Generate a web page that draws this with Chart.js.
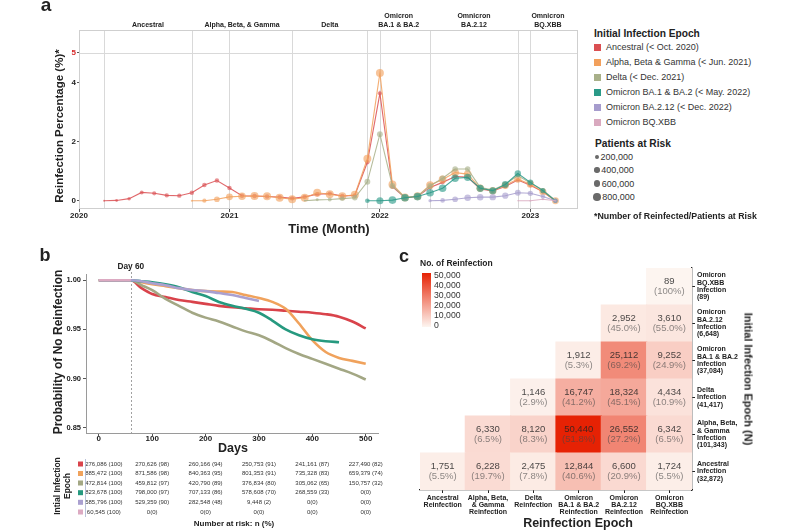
<!DOCTYPE html>
<html><head><meta charset="utf-8"><title>Reinfection</title>
<script src="https://cdn.jsdelivr.net/npm/chart.js@4.4.1/dist/chart.umd.min.js"></script>
<style>
html,body{margin:0;padding:0;background:#fff}
body{width:800px;height:530px;position:relative;overflow:hidden;font-family:"Liberation Sans",Arial,Helvetica,sans-serif;color:#222}
canvas{position:absolute}
.t{position:absolute;white-space:nowrap;line-height:1}
.sq{position:absolute}
</style></head><body>
<canvas id="ca" width="590" height="235" style="left:0;top:0;width:590px;height:235px"></canvas>
<canvas id="cb" width="395" height="290" style="left:0;top:240px;width:395px;height:290px"></canvas>
<canvas id="cc" width="405" height="290" style="left:395px;top:240px;width:405px;height:290px"></canvas>
<div id="overlay"></div>
<script>
// ================= DATA =================
// Panel a: monthly reinfection percentage by initial infection epoch
const months = ['2020-03','2020-04','2020-05','2020-06','2020-07','2020-08','2020-09','2020-10','2020-11','2020-12',
  '2021-01','2021-02','2021-03','2021-04','2021-05','2021-06','2021-07','2021-08','2021-09','2021-10','2021-11','2021-12',
  '2022-01','2022-02','2022-03','2022-04','2022-05','2022-06','2022-07','2022-08','2022-09','2022-10','2022-11','2022-12',
  '2023-01','2023-02','2023-03'];
const yearTicks = [2020, 2021, 2022, 2023];
const yTicksA = [0, 2, 4, 5];
const legendLabels = ['Ancestral (< Oct. 2020)','Alpha, Beta & Gamma (< Jun. 2021)','Delta (< Dec. 2021)',
  'Omicron BA.1 & BA.2 (< May. 2022)','Omicron BA.2.12 (< Dec. 2022)','Omicron BQ.XBB'];
const epochColors = ['#da4f52','#f2a05c','#a8b089','#2a9a88','#a69ccd','#d9a9bf'];
const kmColors = ['#d9434b','#f0a25c','#a3a784','#26997f','#aaa0d0','#dcaac2'];
const epochBounds = ['2020-03','2020-10','2021-06','2021-12','2022-05','2022-12'];
const epochTitles = [['Ancestral'],['Alpha, Beta, & Gamma'],['Delta'],['Omicron','BA.1 & BA.2'],['Omnicron','BA.2.12'],['Omnicron','BQ.XBB']];
const seriesStart = ['2020-03','2020-10','2021-07','2021-12','2022-05','2022-12'];

const ancestralPct = [0,0.01,0.07,0.28,0.25,0.18,0.17,0.27,0.53,0.68,0.43,0.17,0.16,0.14,0.12,0.08,0.13,0.22,0.24,0.16,0.18,1.30,3.63,0.47,0.10,0.14,0.45,0.62,0.82,0.80,0.40,0.33,0.48,0.70,0.52,0.30,0];
const alphaPct = [0,0,0.05,0.13,0.15,0.16,0.15,0.10,0.05,0.10,0.27,0.22,0.15,0.20,1.42,4.32,0.55,0.11,0.15,0.53,0.72,0.95,0.90,0.42,0.34,0.52,0.73,0.56,0.30,0];
const deltaPct = [0,0.03,0.04,0.07,0.10,0.64,2.25,0.50,0.11,0.15,0.50,0.76,1.07,1.07,0.45,0.36,0.56,0.85,0.60,0.36,0];
const ba1Pct = [0,0,0.02,0.10,0.14,0.27,0.42,0.76,0.79,0.42,0.34,0.55,0.92,0.62,0.34,0];
const ba212Pct = [0,0.01,0.05,0.10,0.12,0.12,0.17,0.27,0.25,0.14,0];
const bqxbbPct = [0,0,0.05,0];

// patients at risk (thousands), same order as values above
const ancestralRisk = [60,120,170,210,240,255,265,276,276,276,275,274,273,272,271,270,269,268,266,264,262,260,258,256,254,252,250,248,246,244,242,240,238,236,234,232,230];
const alphaRisk = [60,250,450,650,800,885,885,884,883,882,880,878,876,874,872,870,865,860,850,840,830,820,805,790,770,750,730,710,690,660];
const deltaRisk = [40,120,220,330,420,472,470,468,465,460,455,445,430,415,400,380,350,320,280,220,150];
const ba1Risk = [300,700,823,820,815,805,795,780,760,730,690,640,570,480,370,268];
const ba212Risk = [150,300,450,585,580,570,540,480,400,300,280];
const bqxbbRisk = [20,60,60,60];
const riskLegend = [200000, 400000, 600000, 800000];

// Panel b: probability of no reinfection
const kmDays = [0,60,80,100,125,150,175,200,225,250,275,300,325,350,375,400,425,450,475,500];
const kmAncestral = [1,1,0.992,0.986,0.983,0.980,0.978,0.976,0.974,0.9725,0.9715,0.9705,0.970,0.969,0.968,0.967,0.9655,0.963,0.958,0.951];
const kmAlpha = [1,1,0.998,0.996,0.994,0.992,0.990,0.989,0.9885,0.988,0.985,0.982,0.978,0.971,0.956,0.939,0.927,0.921,0.918,0.915];
const kmDelta = [1,1,0.995,0.990,0.981,0.974,0.967,0.962,0.958,0.953,0.948,0.944,0.938,0.931,0.925,0.920,0.915,0.910,0.905,0.899];
const kmBA1 = [1,1,0.999,0.998,0.996,0.993,0.988,0.984,0.978,0.974,0.971,0.967,0.959,0.950,0.944,0.940,0.938,0.937,null,null];
const kmBA212 = [1,1,0.999,0.997,0.995,0.992,0.990,0.989,0.987,0.985,0.982,0.979,null,null,null,null,null,null,null,null];
const kmBQXBB = [1,1,null,null,null,null,null,null,null,null,null,null,null,null,null,null,null,null,null,null];
const riskDays = [0,100,200,300,400,500];
const riskN = [
  [276086,270626,260166,250753,241161,227490],
  [885472,871586,840363,801353,735328,659379],
  [472814,459812,420790,376834,305062,150757],
  [823678,798000,707133,578608,268559,0],
  [585796,529359,282548,9448,0,0],
  [60545,0,0,0,0,0]];
const riskPct = [
  [100,98,94,91,87,82],
  [100,98,95,91,83,74],
  [100,97,89,80,65,32],
  [100,97,86,70,33,0],
  [100,90,48,2,0,0],
  [100,0,0,0,0,0]];

// Panel c: reinfection counts (rows: initial infection, bottom to top; cols: reinfection epoch)
const reinfLabels = [['Ancestral','Reinfection'],['Alpha, Beta,','& Gamma','Reinfection'],['Delta','Reinfection'],
  ['Omicron','BA.1 & BA.2','Reinfection'],['Omicron','BA.2.12','Reinfection'],['Omicron','BQ.XBB','Reinfection']];
const infLabels = [['Ancestral','Infection','(32,872)'],['Alpha, Beta,','& Gamma','Infection','(101,343)'],
  ['Delta','Infection','(41,417)'],['Omicron','BA.1 & BA.2','Infection','(37,084)'],
  ['Omicron','BA.2.12','Infection','(6,648)'],['Omicron','BQ.XBB','Infection','(89)']];
const counts = [
  [1751,6228,2475,12844,6600,1724],
  [null,6330,8120,50440,26552,6342],
  [null,null,1146,16747,18324,4434],
  [null,null,null,1912,25112,9252],
  [null,null,null,null,2952,3610],
  [null,null,null,null,null,89]];
const pcts = [
  [5.5,19.7,7.8,40.6,20.9,5.5],
  [null,6.5,8.3,51.8,27.2,6.5],
  [null,null,2.9,41.2,45.1,10.9],
  [null,null,null,5.3,69.2,24.9],
  [null,null,null,null,45.0,55.0],
  [null,null,null,null,null,100]];
const colorbarTicks = [50000,40000,30000,20000,10000,0];

// ================= HELPERS =================
const FONT = '"Liberation Sans", Arial, Helvetica, sans-serif';
Chart.defaults.font.family = FONT;
Chart.defaults.color = '#222';
function monthNum(s){const p=s.split('-');return (+p[0]-2020)*12+(+p[1]-1);}
function rgba(hex,a){const n=parseInt(hex.slice(1),16);return 'rgba('+(n>>16&255)+','+(n>>8&255)+','+(n&255)+','+a+')';}
function riskRadius(k){return 3.8*Math.sqrt(k/800);}
function heatColor(v){const t=Math.max(0,Math.min(v/50000,1));const c0=[253,245,240],c1=[230,34,4];
  return 'rgb('+c0.map((c,i)=>Math.round(c+(c1[i]-c)*t)).join(',')+')';}
function fmtPct(p){return p===100?'100%':p.toFixed(1)+'%';}
const ov=document.getElementById('overlay');
function T(str,x,y,o={}){const d=document.createElement('div');d.className='t';d.textContent=str;
  d.style.fontSize=(o.size||9)+'px';d.style.fontWeight=o.bold?'bold':'normal';d.style.color=o.color||'#222';
  d.style.left=x+'px';d.style.top=y+'px';
  const tx=o.align==='left'?'0':'-50%';
  d.style.transform='translate('+tx+',-50%)'+(o.rot?' rotate('+o.rot+'deg)':'');
  ov.appendChild(d);return d;}
function box(x,y,w,h,bg,round){const d=document.createElement('div');d.className='sq';
  d.style.left=x+'px';d.style.top=y+'px';d.style.width=w+'px';d.style.height=h+'px';d.style.background=bg;
  if(round)d.style.borderRadius='50%';ov.appendChild(d);return d;}

// ================= PANEL A =================
const pctSeries=[ancestralPct,alphaPct,deltaPct,ba1Pct,ba212Pct,bqxbbPct];
const riskSeries=[ancestralRisk,alphaRisk,deltaRisk,ba1Risk,ba212Risk,bqxbbRisk];
const dsA = pctSeries.map((vals,s)=>{
  const i0=months.indexOf(seriesStart[s]);
  return {
    label: legendLabels[s],
    data: vals.map((v,i)=>({x:monthNum(months[i0+i]),y:v,r:riskSeries[s][i]})),
    borderColor: rgba(epochColors[s],0.85), borderWidth:1.1,
    backgroundColor: rgba(epochColors[s],0.62),
    pointBackgroundColor: rgba(epochColors[s],0.62), pointBorderWidth:0,
    pointRadius: c=>c.raw?riskRadius(c.raw.r):3,
    pointHoverRadius: c=>c.raw?riskRadius(c.raw.r):3,
    tension:0, order:-s
  };
});
const gridA = {
  id:'gridA',
  beforeDatasetsDraw(chart){
    const {ctx,chartArea:a,scales:{x,y}}=chart;
    ctx.save();ctx.strokeStyle='#d9d9d9';ctx.lineWidth=1;
    const vx=epochBounds.map(monthNum).concat(yearTicks.slice(1).map(yr=>(yr-2020)*12));
    vx.forEach(v=>{const px=Math.round(x.getPixelForValue(v))+0.5;ctx.beginPath();ctx.moveTo(px,a.top);ctx.lineTo(px,a.bottom);ctx.stroke();});
    const py=Math.round(y.getPixelForValue(5))+0.5;
    ctx.beginPath();ctx.moveTo(a.left,py);ctx.lineTo(a.right,py);ctx.stroke();
    ctx.strokeStyle='#cfcfcf';
    ctx.strokeRect(a.left+0.5,a.top+0.5,a.width-1,a.height-1);
    ctx.restore();
  },
  afterDraw(chart){
    const {ctx,chartArea:a,scales:{x}}=chart;
    ctx.save();ctx.font='bold 7px '+FONT;ctx.fillStyle='#222';ctx.textAlign='center';ctx.textBaseline='middle';
    const b=epochBounds.map(monthNum).concat([x.max]);
    epochTitles.forEach((lines,i)=>{
      const cx=(x.getPixelForValue(b[i])+x.getPixelForValue(b[i+1]))/2;
      lines.forEach((ln,k)=>{ctx.fillText(ln,cx,a.top-5-(lines.length-1-k)*9);});
    });
    ctx.restore();
  }
};
new Chart(document.getElementById('ca'),{
  type:'line',
  data:{datasets:dsA},
  options:{
    responsive:false,animation:false,devicePixelRatio:1,
    layout:{padding:{left:0,top:30,right:12,bottom:0}},
    plugins:{legend:{display:false},tooltip:{enabled:false}},
    scales:{
      x:{type:'linear',min:0,max:39.8,
        afterBuildTicks:sc=>{sc.ticks=yearTicks.map(yr=>({value:(yr-2020)*12}));},
        afterFit:sc=>{sc.height=26;},
        ticks:{callback:v=>String(2020+v/12),font:{size:8,weight:'bold'},color:'#222',padding:-1,maxRotation:0,autoSkip:false},
        grid:{drawOnChartArea:false,drawTicks:true,tickLength:3,color:'#555'},
        border:{display:false}},
      y:{type:'linear',min:-0.28,max:5.77,
        afterBuildTicks:sc=>{sc.ticks=yTicksA.map(v=>({value:v}));},
        afterFit:sc=>{sc.width=79;},
        ticks:{font:{size:8,weight:'bold'},color:c=>(c.tick&&c.tick.value===5)?'#d62728':'#222',padding:1},
        grid:{drawOnChartArea:false,tickLength:2,color:'#555'},
        border:{display:false}}
    }
  },
  plugins:[gridA]
});

// ================= PANEL B =================
const kmSeries=[kmAncestral,kmAlpha,kmDelta,kmBA1,kmBA212,kmBQXBB];
const dsB = kmSeries.map((vals,s)=>({
  label: legendLabels[s],
  data: kmDays.map((d,i)=>vals[i]==null?null:{x:d,y:vals[i]}).filter(p=>p),
  borderColor: kmColors[s], borderWidth:2.6, pointRadius:0, fill:false,
  tension:0.4, cubicInterpolationMode:'monotone', order:-s
}));
const annoB = {
  id:'annoB',
  beforeDatasetsDraw(chart){
    const {ctx,chartArea:a,scales:{x}}=chart;
    const px=Math.round(x.getPixelForValue(60))+0.5;
    ctx.save();ctx.strokeStyle='#8a8a8a';ctx.lineWidth=0.8;ctx.setLineDash([2,2]);
    ctx.beginPath();ctx.moveTo(px,a.top-2);ctx.lineTo(px,a.bottom);ctx.stroke();ctx.restore();
  },
  afterDraw(chart){
    const {ctx,chartArea:a,scales:{x}}=chart;
    ctx.save();ctx.textAlign='center';ctx.textBaseline='middle';ctx.fillStyle='#222';
    ctx.font='bold 8.3px '+FONT;ctx.fillText('Day 60',x.getPixelForValue(60),a.top-7.5);
    // risk table
    const rowY=[224,233.5,243,252.7,262.3,272];
    ctx.font='6px '+FONT;ctx.fillStyle='#333';
    riskN.forEach((row,r)=>{
      ctx.fillStyle=kmColors[r];ctx.fillRect(78,rowY[r]-2.5,5,5);
      ctx.fillStyle='#333';
      row.forEach((n,j)=>{
        const txt=n===0?'0(0)':n.toLocaleString('en-US')+' ('+riskPct[r][j]+')';
        ctx.fillText(txt,x.getPixelForValue(riskDays[j])+(j===0?5:0),rowY[r]);
      });
    });
    ctx.strokeStyle='#a8b4d0';ctx.lineWidth=0.8;ctx.beginPath();ctx.moveTo(85.5,219);ctx.lineTo(85.5,277);ctx.stroke();
    ctx.restore();
  }
};
new Chart(document.getElementById('cb'),{
  type:'line',
  data:{datasets:dsB},
  options:{
    responsive:false,animation:false,devicePixelRatio:1,
    layout:{padding:{left:0,top:34,right:17,bottom:83}},
    plugins:{legend:{display:false},tooltip:{enabled:false}},
    scales:{
      x:{type:'linear',min:-24,max:523,
        afterBuildTicks:sc=>{sc.ticks=riskDays.map(v=>({value:v}));},
        afterFit:sc=>{sc.height=14;},
        ticks:{font:{size:8,weight:'bold'},color:'#222',padding:-2,maxRotation:0,autoSkip:false},
        grid:{drawOnChartArea:false,tickLength:3,color:'#555'},
        border:{display:true,color:'#9a9a9a',width:1}},
      y:{type:'linear',min:0.8446,max:1.0064,
        afterBuildTicks:sc=>{sc.ticks=[0.85,0.9,0.95,1.0].map(v=>({value:v}));},
        afterFit:sc=>{sc.width=86;},
        ticks:{callback:v=>v.toFixed(2),font:{size:7.5,weight:'bold'},color:'#222',padding:2},
        grid:{drawOnChartArea:false,tickLength:3,color:'#555'},
        border:{display:true,color:'#9a9a9a',width:1}}
    }
  },
  plugins:[annoB]
});

// ================= PANEL C =================
const dsC = counts.map((row,r)=>({
  label: infLabels[r].join(' '),
  data: row.map(c=>c==null?null:[r,r+1]),
  backgroundColor: row.map(c=>c==null?'rgba(0,0,0,0)':heatColor(c)),
  borderWidth:0, barPercentage:1, categoryPercentage:1, grouped:false, inflateAmount:0.6
}));
const textC = {
  id:'textC',
  afterDatasetsDraw(chart){
    const {ctx,scales:{x,y}}=chart;
    ctx.save();ctx.textAlign='center';ctx.textBaseline='middle';ctx.font='9.5px '+FONT;
    counts.forEach((row,r)=>row.forEach((c,j)=>{
      if(c==null)return;
      const px=x.getPixelForValue(j),py=y.getPixelForValue(r+0.5);
      ctx.fillStyle='rgba(35,35,35,0.82)';ctx.fillText(c.toLocaleString('en-US'),px,py-5);
      ctx.fillStyle='rgba(70,70,70,0.62)';ctx.fillText('('+fmtPct(pcts[r][j])+')',px,py+5);
    }));
    ctx.restore();
  }
};
new Chart(document.getElementById('cc'),{
  type:'bar',
  data:{labels:reinfLabels,datasets:dsC},
  options:{
    responsive:false,animation:false,devicePixelRatio:1,
    layout:{padding:{left:25,top:28,right:0,bottom:0}},
    plugins:{legend:{display:false},tooltip:{enabled:false}},
    scales:{
      x:{type:'category',
        afterFit:sc=>{sc.height=40;},
        ticks:{font:{size:7,weight:'bold',lineHeight:1.0},color:'#222',padding:2,maxRotation:0,autoSkip:false},
        grid:{drawOnChartArea:false,offset:false,tickLength:3,color:'#222'},
        border:{display:true,color:'#222',width:1.3}},
      y:{type:'linear',position:'right',min:0,max:6,
        afterBuildTicks:sc=>{sc.ticks=infLabels.map((l,i)=>({value:i+0.5}));},
        afterFit:sc=>{sc.width=108;},
        ticks:{callback:v=>infLabels[Math.floor(v)],font:{size:7,weight:'bold',lineHeight:1.05},color:'#222',padding:2,autoSkip:false},
        grid:{drawOnChartArea:false,tickLength:3,color:'#222'},
        border:{display:true,color:'#222',width:1.3}}
    }
  },
  plugins:[textC]
});

// ================= HTML TEXT / LEGENDS =================
// panel a
T('a',46,4,{size:19,bold:true});
T('Reinfection Percentage (%)*',60,126,{size:11.5,bold:true,rot:-90});
T('Time (Month)',329,228,{size:13,bold:true});
T('Initial Infection Epoch',594,34,{size:10.2,bold:true,align:'left'});
const legY=[47,62,77,92,107,122];
legendLabels.forEach((l,i)=>{box(594,legY[i]-3.5,7,7,epochColors[i]);T(l,606,legY[i],{size:9,color:'#333',align:'left'});});
T('Patients at Risk',595,144,{size:10.2,bold:true,align:'left'});
const riskY=[157,170,183.5,197];
riskLegend.forEach((n,i)=>{const r=riskRadius(n/1000);box(597-r,riskY[i]-r,2*r,2*r,'#6a6a6a',true);
  T(n.toLocaleString('en-US'),597+r+1.5,riskY[i],{size:9,color:'#333',align:'left'});});
T('*Number of Reinfected/Patients at Risk',594,216,{size:8.8,bold:true,align:'left'});
// panel b
T('b',45,255,{size:18,bold:true});
T('Probability of No Reinfection',58,352,{size:12,bold:true,rot:-90});
T('Days',233,448,{size:12.5,bold:true});
T('Intial Infection',57,486,{size:8.5,bold:true,rot:-90});
T('Epoch',67,486,{size:8.5,bold:true,rot:-90});
T('Number at risk: n (%)',234,524,{size:8,bold:true});
// panel c
T('c',404,256,{size:18,bold:true});
T('No. of Reinfection',420,263,{size:8.5,bold:true,align:'left'});
(function(){const d=box(422,273,8.5,54,'');
  d.style.background='linear-gradient(to bottom,'+heatColor(52000)+','+heatColor(25000)+','+heatColor(-2000)+')';})();
colorbarTicks.forEach((v,i)=>T(v.toLocaleString('en-US'),434,275+i*10,{size:8.7,color:'#333',align:'left'}));
T('Reinfection Epoch',578,523,{size:12.5,bold:true});
T('Initial Infection Epoch (N)',748,379,{size:11,bold:true,rot:90});
</script>
</body></html>
